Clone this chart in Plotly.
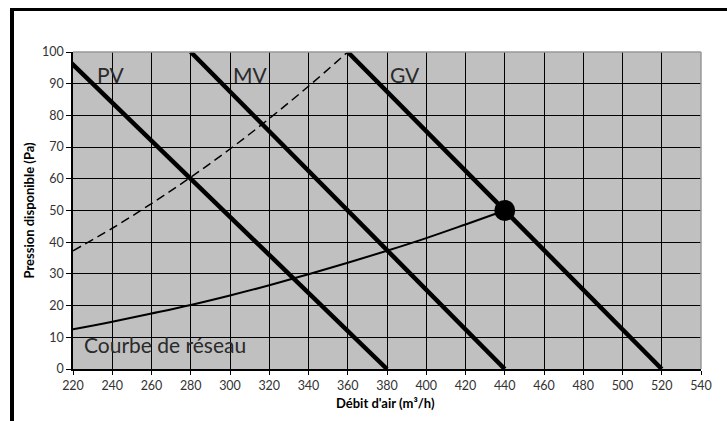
import plotly.graph_objects as go

# Data
pv_x = [215, 380]
pv_y = [99, 0]
mv_x = [280, 440]
mv_y = [100, 0]
gv_x = [360, 520]
gv_y = [100, 0]

dash_x = [220, 240, 260, 280, 300, 320, 340, 360]
dash_y = [37.3, 44.4, 52.2, 60.5, 69.4, 79.0, 89.2, 100]

net_x = [220, 240, 260, 280, 300, 320, 340, 360, 380, 400, 420, 440]
net_y = [12.5, 14.9, 17.5, 20.2, 23.2, 26.4, 29.9, 33.5, 37.3, 41.3, 45.6, 50]

point_x = [440]
point_y = [50]

labels = ["PV", "MV", "GV", "Courbe de réseau"]
label_x = [231, 300.7, 380.5, 224.5]
label_y = [92.9, 92.9, 92.9, 7.8]

x_ticks = list(range(220, 541, 20))
y_ticks = list(range(0, 101, 10))

FONT = "Lato"

W, H = 727, 421
L, T, R, B = 73, 52, 26, 52
pw, ph = W - L - R, H - T - B

fig = go.Figure()

for xs, ys in [(pv_x, pv_y), (mv_x, mv_y), (gv_x, gv_y)]:
    fig.add_trace(go.Scatter(x=xs, y=ys, mode="lines",
                             line=dict(color="black", width=4.5),
                             cliponaxis=False, hoverinfo="skip"))

fig.add_trace(go.Scatter(x=dash_x, y=dash_y, mode="lines", line_shape="spline",
                         line=dict(color="black", width=1.5, dash="9px,5px"),
                         hoverinfo="skip"))
fig.add_trace(go.Scatter(x=net_x, y=net_y, mode="lines", line_shape="spline",
                         line=dict(color="black", width=2), hoverinfo="skip"))
fig.add_trace(go.Scatter(x=point_x, y=point_y, mode="markers",
                         marker=dict(color="black", size=21), cliponaxis=False,
                         hoverinfo="skip"))

for t, lx, ly in zip(labels, label_x, label_y):
    fig.add_annotation(x=lx, y=ly, text=t, showarrow=False, xanchor="left",
                       yanchor="middle", font=dict(family=FONT, size=21, color="#2a2a2a"))

# axis titles
fig.add_annotation(xref="paper", yref="paper", x=(385 - L) / pw, y=-(403 - (H - B)) / ph,
                   text="<b>Débit d'air (m³/h)</b>", showarrow=False,
                   xanchor="center", yanchor="middle",
                   font=dict(family=FONT, size=13, color="black"))
fig.add_annotation(xref="paper", yref="paper", x=(28 - L) / pw, y=0.5,
                   text="<b>Pression disponible (Pa)</b>", showarrow=False, textangle=-90,
                   xanchor="center", yanchor="middle",
                   font=dict(family=FONT, size=13, color="black"))

# plot top/right border in gray
fig.add_shape(type="line", xref="paper", yref="paper", x0=0, x1=1, y0=1, y1=1,
              line=dict(color="#999999", width=1.5))
fig.add_shape(type="line", xref="paper", yref="paper", x0=1, x1=1, y0=0, y1=1,
              line=dict(color="#999999", width=1.5))

# outer black frame (top and left)
fx, fy = 12.0, 9.5
fig.add_shape(type="line", xref="paper", yref="paper",
              x0=(fx - L) / pw, x1=(W + 5 - L) / pw,
              y0=1 + (T - fy) / ph, y1=1 + (T - fy) / ph,
              line=dict(color="black", width=3))
fig.add_shape(type="line", xref="paper", yref="paper",
              x0=(fx - L) / pw, x1=(fx - L) / pw,
              y0=1 + (T - fy + 1.5) / ph, y1=-(B + 5) / ph,
              line=dict(color="black", width=4))

fig.update_layout(
    width=W, height=H,
    margin=dict(l=L, r=R, t=T, b=B),
    paper_bgcolor="white", plot_bgcolor="#c0c0c0",
    showlegend=False,
    font=dict(family=FONT, size=12, color="#333"),
)

fig.update_xaxes(range=[220, 540], tickvals=x_ticks, ticktext=[str(v) for v in x_ticks],
                 showgrid=True, gridcolor="black", gridwidth=1,
                 showline=True, linecolor="black", linewidth=2,
                 ticks="outside", ticklen=4, tickcolor="black",
                 tickfont=dict(family=FONT, size=12.5, color="#333"),
                 zeroline=False, fixedrange=True)
fig.update_yaxes(range=[0, 100], tickvals=y_ticks, ticktext=[str(v) for v in y_ticks],
                 showgrid=True, gridcolor="black", gridwidth=1,
                 showline=True, linecolor="black", linewidth=1.5,
                 ticks="outside", ticklen=5, tickcolor="black",
                 tickfont=dict(family=FONT, size=12.5, color="#333"),
                 zeroline=False, fixedrange=True)

fig.write_html("out.html", config={"displayModeBar": False},
               post_script="document.body.style.margin='0';"
                           "document.body.style.overflow='hidden';")
